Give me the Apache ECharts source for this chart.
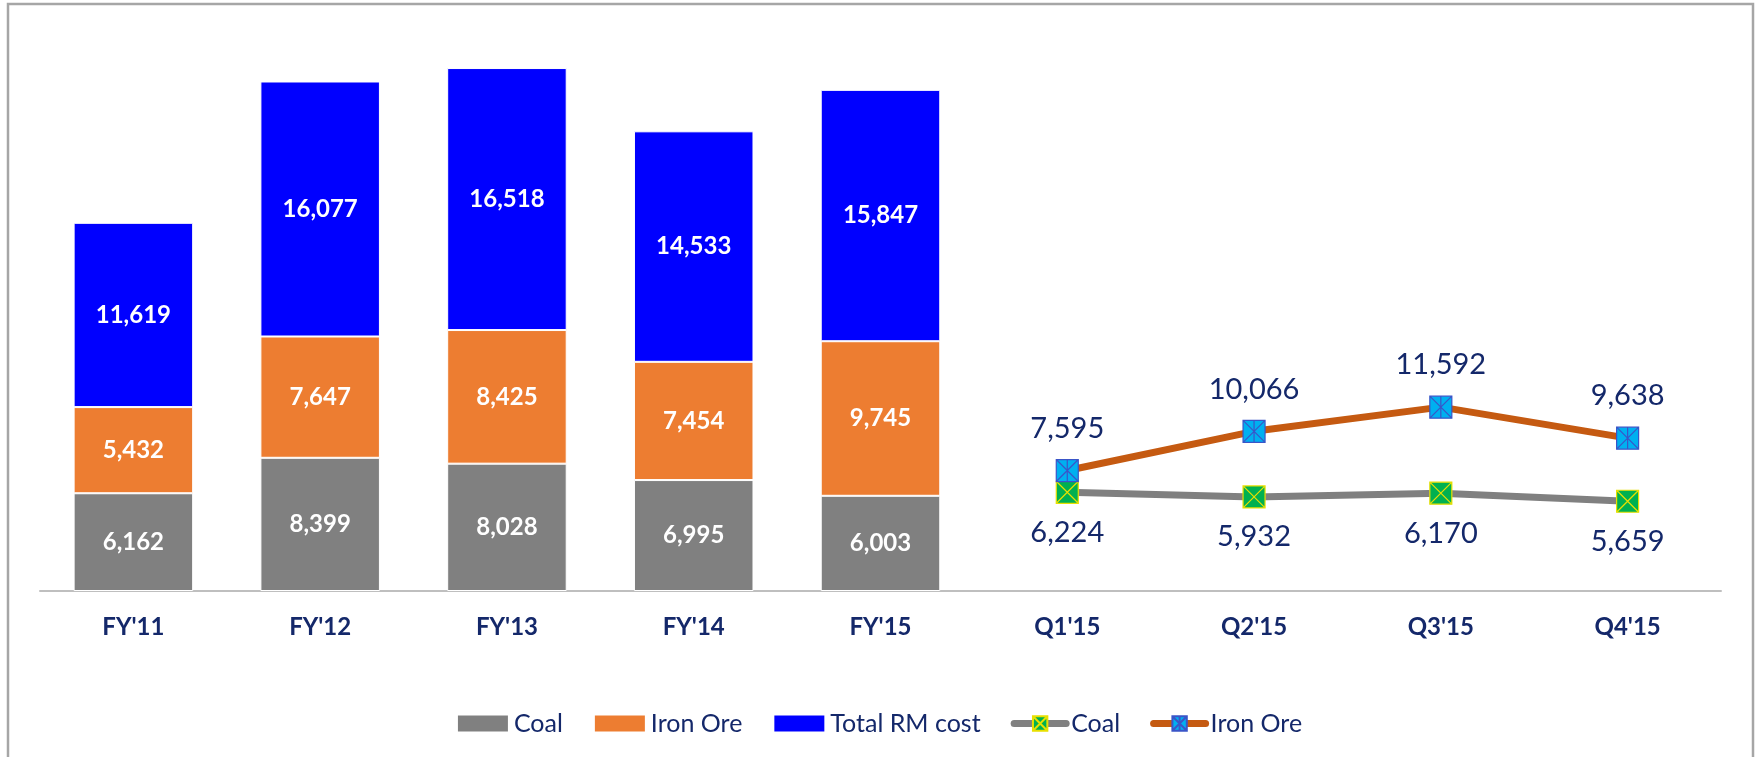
<!DOCTYPE html>
<html>
<head>
<meta charset="utf-8">
<title>RM cost</title>
<script src="https://cdn.jsdelivr.net/npm/echarts@6/dist/echarts.min.js"></script>
<style>
  html, body { margin: 0; padding: 0; background: #fff; }
  #chart { width: 1758px; height: 757px; }
</style>
</head>
<body>
<div id="chart"></div>
<script>
// categories: 5 fiscal years (stacked bars) + 4 quarters (lines)
const categories = ["FY'11", "FY'12", "FY'13", "FY'14", "FY'15", "Q1'15", "Q2'15", "Q3'15", "Q4'15"]

// yearly stacked bars
const coalYear = [6162, 8399, 8028, 6995, 6003, '-', '-', '-', '-']
const ironYear = [5432, 7647, 8425, 7454, 9745, '-', '-', '-', '-']
const totalYear = [11619, 16077, 16518, 14533, 15847, '-', '-', '-', '-']

// quarterly lines
const coalQtr = ['-', '-', '-', '-', '-', 6224, 5932, 6170, 5659]
const ironQtr = ['-', '-', '-', '-', '-', 7595, 10066, 11592, 9638]

const navy = '#14286a'
const font = 'Lato'
const fmt = (p) => Number(p.value).toLocaleString('en-US')

const chart = echarts.init(document.getElementById('chart'))

function barSeries(name, data, color) {
  return {
    name: name,
    type: 'bar',
    stack: 'year',
    barWidth: '64%',
    data: data,
    itemStyle: { color: color, borderColor: '#fff', borderWidth: 1 },
    label: {
      show: true,
      position: 'inside',
      color: '#fff',
      fontFamily: font,
      fontWeight: 'bold',
      fontSize: 24,
      formatter: fmt,
    },
  }
}

// square marker with a cross / asterisk drawn in the border colour
const xBox = 'path://M0,0L10,0L10,10L0,10ZM0,0L10,10M10,0L0,10'
const starBox = 'path://M0,0L10,0L10,10L0,10ZM0,0L10,10M10,0L0,10M5,0L5,10'

function lineSeries(name, data, lineColor, fill, stroke, symbol, pos, dist) {
  return {
    name: name,
    type: 'line',
    data: data,
    symbol: symbol,
    symbolSize: 22,
    symbolKeepAspect: true,
    z: 5,
    lineStyle: { color: lineColor, width: 7 },
    itemStyle: { color: fill, borderColor: stroke, borderWidth: 1.2 },
    label: {
      show: true,
      position: pos,
      distance: dist,
      color: navy,
      fontFamily: font,
      fontSize: 29,
      formatter: fmt,
    },
  }
}

const option = {
  animation: false,
  backgroundColor: '#fff',
  graphic: [
    {
      type: 'rect',
      silent: true,
      shape: { x: 8, y: 4, width: 1745, height: 820 },
      style: { fill: 'none', stroke: '#a6a6a6', lineWidth: 2.5 },
    },
  ],
  grid: { left: 40, right: 37, top: 20, bottom: 166 },
  legend: {
    bottom: 16,
    left: 'center',
    itemWidth: 52,
    itemHeight: 18,
    itemGap: 30,
    textStyle: { color: navy, fontFamily: font, fontSize: 25 },
    formatter: (name) => name.trim(),
    data: [
      { name: 'Coal', icon: 'rect' },
      { name: 'Iron Ore', icon: 'rect' },
      { name: 'Total RM cost', icon: 'rect' },
      { name: 'Coal ', lineStyle: { width: 7, cap: 'round' } },
      { name: 'Iron Ore ', lineStyle: { width: 7, cap: 'round' } },
    ],
  },
  xAxis: {
    type: 'category',
    data: categories,
    axisLine: { lineStyle: { color: '#bfbfbf', width: 2 } },
    axisTick: { show: false },
    axisLabel: {
      color: navy,
      fontFamily: font,
      fontWeight: 'bold',
      fontSize: 24,
      margin: 24,
    },
  },
  yAxis: {
    type: 'value',
    min: 0,
    max: 36000,
    show: false,
    splitLine: { show: false },
  },
  series: [
    barSeries('Coal', coalYear, '#808080'),
    barSeries('Iron Ore', ironYear, '#ED7D31'),
    barSeries('Total RM cost', totalYear, '#0000FF'),
    lineSeries('Coal ', coalQtr, '#808080', '#00B050', '#e8e000', xBox, 'bottom', 14),
    lineSeries('Iron Ore ', ironQtr, '#C55A11', '#00B0F0', '#3a55c8', starBox, 'top', 16),
  ],
}

chart.setOption(option)
window.onresize = () => chart.resize()
</script>
</body>
</html>
